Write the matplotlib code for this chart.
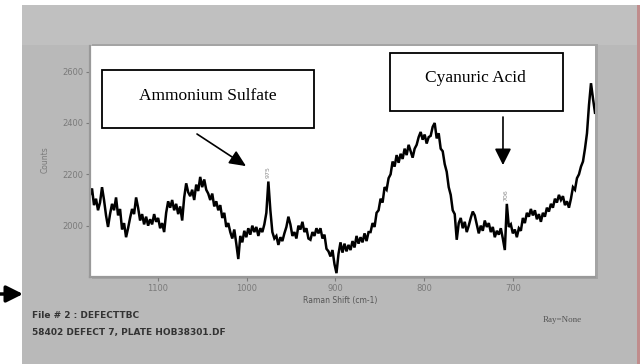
import matplotlib.pyplot as plt
import numpy as np
from matplotlib.patches import Rectangle

W, H = 642, 364  # canvas size in pixels (dpi 100)

# Raman counts, sampled evenly from 1176.6 down to 607.6 cm-1
counts = [
    2120, 2145, 2080, 2105, 2060, 2090, 2150, 2100, 2040, 1995,
    2045, 2085, 2060, 2110, 2040, 2065, 1985, 2010, 1955, 1990,
    2030, 2065, 2045, 2110, 2070, 2020, 2045, 2005, 2035, 2000,
    2025, 2005, 2045, 2015, 2030, 1990, 2010, 1975, 2050, 2095,
    2070, 2100, 2060, 2085, 2045, 2075, 2020, 2110, 2165, 2130,
    2115, 2140, 2100, 2160, 2135, 2190, 2150, 2180, 2140, 2125,
    2100, 2125, 2075, 2095, 2060, 2080, 2030, 2050, 1995, 2010,
    1975, 1950, 1985, 1930, 1870, 1960, 1935, 1980, 1955, 1990,
    1965, 2000, 1975, 1995, 1960, 1990, 1975, 2005, 2050, 2172,
    2060, 1975, 1950, 1960, 1925, 1955, 1940, 1970, 1995, 2035,
    2005, 1960, 1975, 1950, 2000, 1985, 2015, 1975, 1990, 1950,
    1945, 1975, 1960, 1990, 1970, 1990, 1950, 1965, 1910, 1900,
    1880, 1905, 1850, 1815, 1890, 1935, 1895, 1930, 1900, 1925,
    1905, 1940, 1915, 1960, 1930, 1955, 1935, 1970, 1940, 1975,
    1975, 2010, 1995, 2050, 2060, 2105, 2090, 2150, 2140, 2185,
    2200, 2250, 2230, 2275, 2245, 2280, 2260, 2300, 2275, 2315,
    2290, 2265, 2300, 2315, 2345, 2365, 2335, 2355, 2320, 2345,
    2350, 2385, 2400, 2340, 2360, 2300, 2290, 2240, 2210, 2150,
    2120, 2060, 2045, 1945, 2010, 2030, 1990, 2015, 1975, 2000,
    2030, 2055, 2040, 2005, 1970, 2000, 1980, 2020, 1995, 2010,
    1975, 1995, 1955, 1980, 1965, 1990, 1950, 1905, 2085, 1995,
    2005, 1970, 1985, 1955, 1990, 1980, 2030, 2010, 2050, 2035,
    2065, 2040, 2060, 2025, 2045, 2015, 2050, 2035, 2070, 2055,
    2085, 2070, 2105, 2090, 2120, 2100, 2115, 2080, 2095, 2070,
    2105, 2150, 2140, 2185, 2200, 2230, 2250, 2300, 2360, 2470,
    2555, 2495, 2440,
]
shift = np.linspace(1176.6, 607.6, len(counts))

x_ticks = [1100, 1000, 900, 800, 700]
y_ticks = [2000, 2200, 2400, 2600]

peak_text = ["975", "706"]
peak_pos = [975.5, 708.0]
peak_height = [2172, 2085]

ammonium_tip = (1000.8, 2232)
cyanuric_tip = (711.3, 2236)


def ff(px, py):
    """pixel (from top-left) -> figure fraction"""
    return px / W, 1 - py / H


def fig_rect(fig, x0, y0, x1, y1, **kw):
    (a, b), (c, d) = ff(x0, y1), ff(x1, y0)
    r = Rectangle((a, b), c - a, d - b, transform=fig.transFigure, **kw)
    fig.add_artist(r)
    return r


fig = plt.figure(figsize=(W / 100, H / 100), dpi=100, facecolor="white")

# window frame
fig_rect(fig, 22, 5, 637, 364, facecolor="#b9b9b9", edgecolor="none", zorder=-10)
fig_rect(fig, 22, 5, 637, 45, facecolor="#c0c0c0", edgecolor="none", zorder=-9)
fig_rect(fig, 637, 5, 640, 364, facecolor="#c08c8c", edgecolor="none", zorder=-9)
fig_rect(fig, 92, 44, 598, 279, facecolor="#a4a4a4", edgecolor="none", zorder=-8)

x0, y1 = ff(90, 277)
x1, y0 = ff(595, 46)
ax = fig.add_axes([x0, y1, x1 - x0, y0 - y1])
ax.set_facecolor("white")
ax.plot(shift, counts, color="black", lw=1.8, solid_joinstyle="miter")
ax.set_xlim(1176.6, 607.6)
ax.set_ylim(1800, 2700)
ax.set_xticks(x_ticks)
ax.set_yticks(y_ticks)
ax.tick_params(labelsize=6, colors="#7a7a7a", length=3, width=0.8, pad=2)
for s in ["top", "right"]:
    ax.spines[s].set_visible(False)
for s in ["left", "bottom"]:
    ax.spines[s].set_color("#999999")
    ax.spines[s].set_linewidth(1.6)

for t, xp, yp in zip(peak_text, peak_pos, peak_height):
    ax.text(xp, yp + 12, t, rotation=90, ha="center", va="bottom",
            fontsize=4.5, color="#8a8a8a")

# callout arrows
ax.annotate("", xy=ammonium_tip, xycoords="data",
            xytext=ff(197, 134), textcoords="figure fraction",
            arrowprops=dict(arrowstyle="-|>,head_length=1.0,head_width=0.45",
                            color="black", lw=1.2, shrinkA=0, shrinkB=0))
ax.annotate("", xy=cyanuric_tip, xycoords="data",
            xytext=ff(503, 117), textcoords="figure fraction",
            arrowprops=dict(arrowstyle="-|>,head_length=1.0,head_width=0.5",
                            color="black", lw=1.2, shrinkA=0, shrinkB=0))
ax.annotate("", xy=ff(23, 294), xycoords="figure fraction",
            xytext=ff(0, 294), textcoords="figure fraction",
            arrowprops=dict(arrowstyle="-|>,head_length=1.0,head_width=0.5",
                            color="black", lw=2.5, shrinkA=0, shrinkB=0),
            annotation_clip=False)

# callout boxes
fig_rect(fig, 102, 70, 314, 128, facecolor="white", edgecolor="black", lw=1.3, zorder=5)
fig_rect(fig, 390, 53, 563, 111, facecolor="white", edgecolor="black", lw=1.3, zorder=5)
fig.text(*ff(208, 96), "Ammonium Sulfate", ha="center", va="center",
         fontsize=12.5, family="Liberation Serif", zorder=6)
fig.text(*ff(475, 78), "Cyanuric Acid", ha="center", va="center",
         fontsize=12.5, family="Liberation Serif", zorder=6)

# axis titles and file info
fig.text(*ff(45, 160), "Counts", rotation=90, ha="center", va="center",
         fontsize=5.5, color="#7a7a7a")
fig.text(*ff(340, 301), "Raman Shift (cm-1)", ha="center", va="center",
         fontsize=5.5, color="#555555")
fig.text(*ff(32, 316), "File # 2 : DEFECTTBC", ha="left", va="center",
         fontsize=6.5, fontweight="bold", color="#333333")
fig.text(*ff(32, 333), "58402 DEFECT 7, PLATE HOB38301.DF", ha="left", va="center",
         fontsize=6.5, fontweight="bold", color="#333333")
fig.text(*ff(562, 320), "Ray=None", ha="center", va="center",
         fontsize=6.5, family="Liberation Serif", color="#555555")

fig.savefig("out.png", dpi=100, facecolor="white")
